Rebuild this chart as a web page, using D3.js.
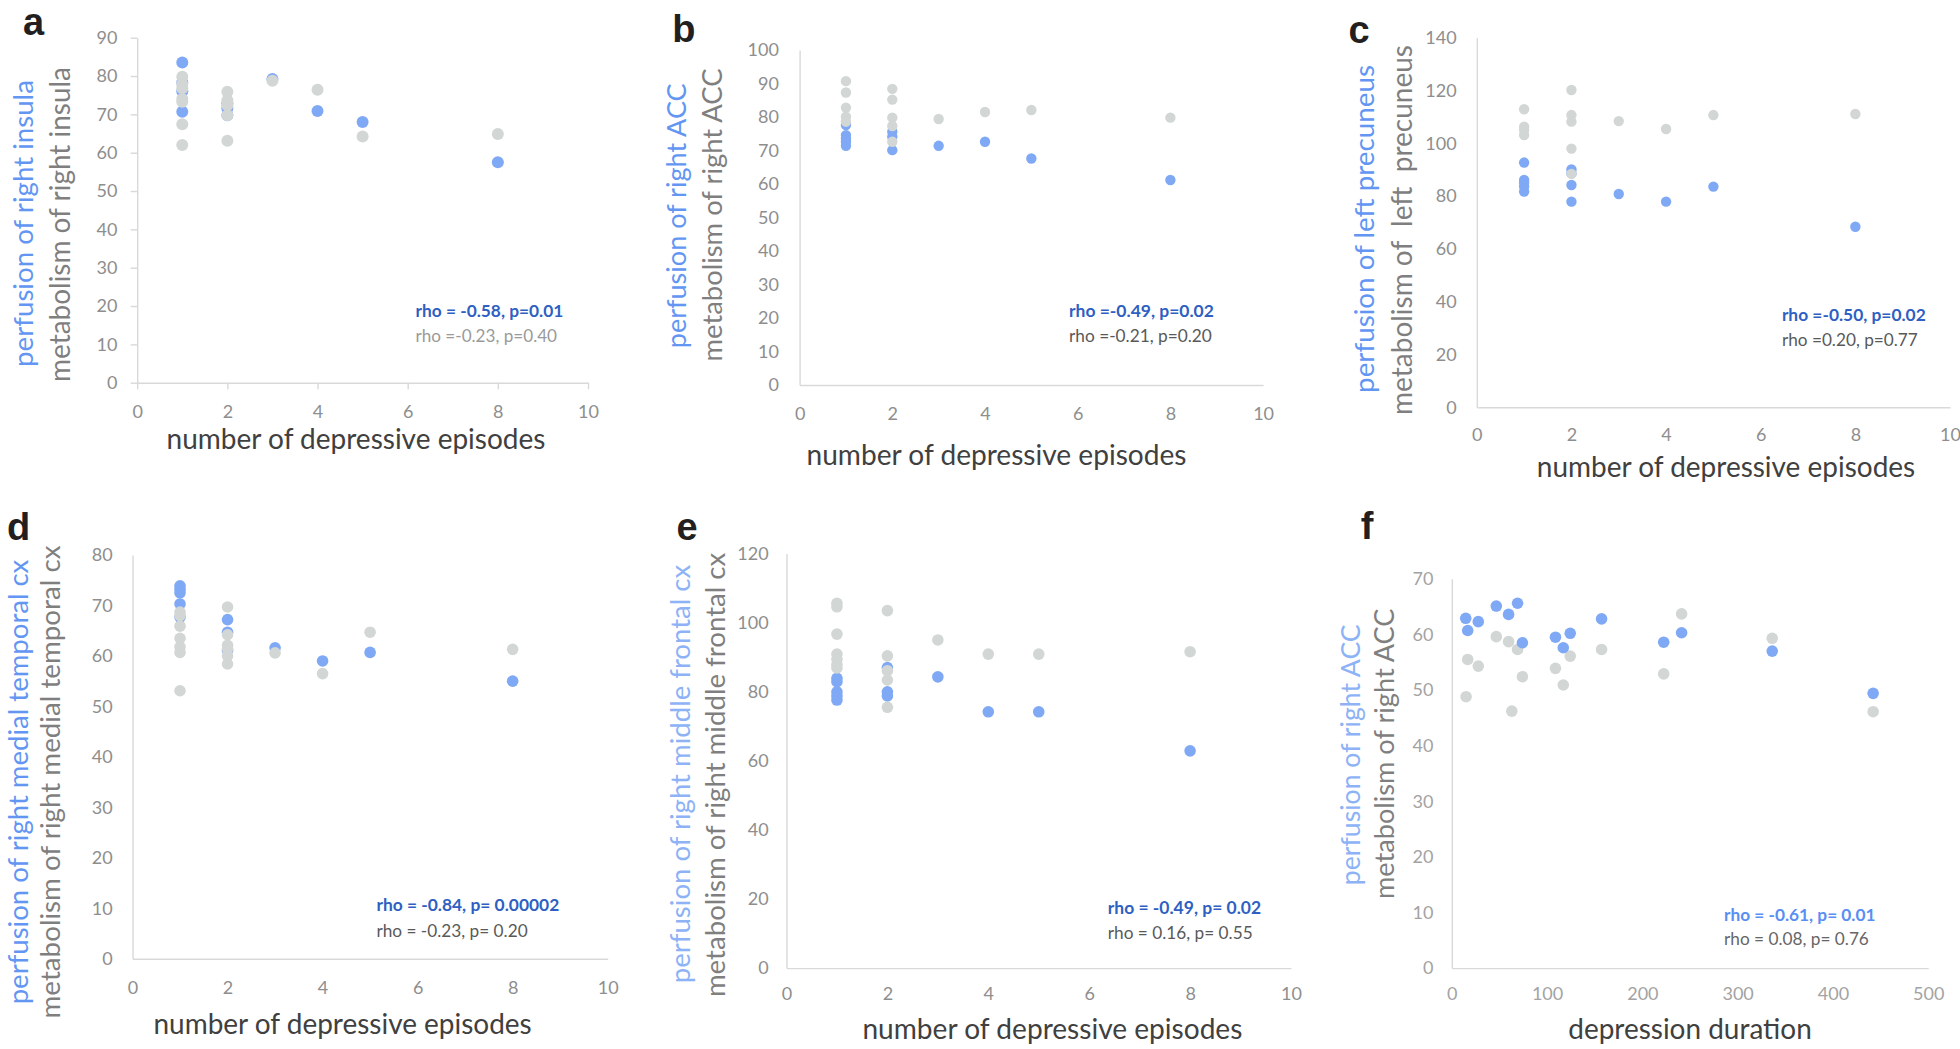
<!DOCTYPE html>
<html><head><meta charset="utf-8">
<script src="https://cdn.jsdelivr.net/npm/d3@7"></script>
<style>body{margin:0;background:#fff} svg{display:block}</style>
</head><body>
<svg id="chart" width="1960" height="1049"></svg>
<script>
// ---------------- DATA ----------------
const episodeTicks  = [0, 2, 4, 6, 8, 10];
const durationTicks = [0, 100, 200, 300, 400, 500];
const yTicksA = [0, 10, 20, 30, 40, 50, 60, 70, 80, 90];
const yTicksB = [0, 10, 20, 30, 40, 50, 60, 70, 80, 90, 100];
const yTicksC = [0, 20, 40, 60, 80, 100, 120, 140];
const yTicksD = [0, 10, 20, 30, 40, 50, 60, 70, 80];
const yTicksE = [0, 20, 40, 60, 80, 100, 120];
const yTicksF = [0, 10, 20, 30, 40, 50, 60, 70];

const panelLetters = ["a", "b", "c", "d", "e", "f"];
const perfTitles = ["perfusion of right insula", "perfusion of right ACC", "perfusion of left precuneus",
  "perfusion of right medial temporal cx", "perfusion of right middle frontal cx", "perfusion of right ACC"];
const metabTitles = ["metabolism of right insula", "metabolism of right ACC", "metabolism of  left  precuneus",
  "metabolism of right medial temporal cx", "metabolism of right middle frontal cx", "metabolism of right ACC"];
const xTitles = ["number of depressive episodes", "number of depressive episodes", "number of depressive episodes",
  "number of depressive episodes", "number of depressive episodes", "depression duration"];
const rhoPerf = ["rho = -0.58, p=0.01", "rho =-0.49, p=0.02", "rho =-0.50, p=0.02",
  "rho = -0.84, p= 0.00002", "rho = -0.49, p= 0.02", "rho = -0.61, p= 0.01"];
const rhoMetab = ["rho =-0.23, p=0.40", "rho =-0.21, p=0.20", "rho =0.20, p=0.77",
  "rho = -0.23, p= 0.20", "rho = 0.16, p= 0.55", "rho = 0.08, p= 0.76"];

// panel a: right insula
const aPerfX  = [1, 1, 1, 1, 2, 2, 2, 3, 4, 5, 8];
const aPerfY  = [83.5, 78.3, 76.0, 70.7, 72.9, 71.6, 69.8, 79.2, 70.9, 68.0, 57.5];
const aMetabX = [1, 1, 1, 1, 1, 1, 1, 2, 2, 2, 2, 2, 3, 4, 5, 8];
const aMetabY = [79.8, 77.9, 76.8, 74.0, 73.3, 67.4, 62.0, 75.9, 73.7, 72.4, 69.8, 63.1, 78.8, 76.4, 64.2, 64.9];

// panel b: right ACC
const bPerfX  = [1, 1, 1, 1, 1, 2, 2, 2, 3, 4, 5, 8];
const bPerfY  = [77.6, 74.6, 73.6, 72.6, 71.4, 75.6, 74.1, 70.1, 71.4, 72.6, 67.6, 61.2];
const bMetabX = [1, 1, 1, 1, 1, 2, 2, 2, 2, 2, 3, 4, 5, 8];
const bMetabY = [90.7, 87.3, 82.8, 80.1, 78.6, 88.4, 85.2, 79.8, 77.3, 72.6, 79.4, 81.5, 82.1, 79.8];

// panel c: left precuneus
const cPerfX  = [1, 1, 1, 1, 1, 2, 2, 2, 2, 3, 4, 5, 8];
const cPerfY  = [92.7, 86.1, 85.1, 83.6, 81.7, 90.1, 88.6, 84.2, 77.9, 80.8, 77.9, 83.6, 68.4];
const cMetabX = [1, 1, 1, 1, 2, 2, 2, 2, 2, 3, 4, 5, 8];
const cMetabY = [112.9, 106.3, 105.0, 103.1, 120.2, 110.7, 108.2, 98.0, 88.4, 108.4, 105.4, 110.7, 111.1];

// panel d: right medial temporal cx
const dPerfX  = [1, 1, 1, 1, 1, 2, 2, 2, 3, 4, 5, 8];
const dPerfY  = [73.9, 73.2, 72.5, 70.3, 67.7, 67.2, 64.7, 61.1, 61.6, 59.0, 60.7, 55.0];
const dMetabX = [1, 1, 1, 1, 1, 1, 1, 2, 2, 2, 2, 2, 2, 3, 4, 5, 8];
const dMetabY = [68.7, 68.0, 65.9, 63.5, 61.8, 60.7, 53.1, 69.7, 64.2, 62.1, 61.4, 60.0, 58.4, 60.6, 56.5, 64.7, 61.3];

// panel e: right middle frontal cx
const ePerfX  = [1, 1, 1, 1, 1, 2, 2, 2, 3, 4, 5, 8];
const ePerfY  = [83.9, 82.9, 80.0, 78.8, 77.6, 87.0, 80.0, 78.8, 84.3, 74.2, 74.2, 62.9];
const eMetabX = [1, 1, 1, 1, 1, 1, 1, 2, 2, 2, 2, 2, 3, 4, 5, 8];
const eMetabY = [105.6, 104.6, 96.7, 90.9, 89.4, 87.9, 86.9, 103.5, 90.4, 86.1, 83.4, 75.5, 95.0, 90.9, 90.9, 91.6];

// panel f: right ACC vs depression duration
const fPerfX  = [14.6, 16.7, 27.8, 46.7, 59.6, 69.0, 74.1, 108.8, 117.0, 124.3, 157.2, 222.4, 241.2, 336.3, 442.2];
const fPerfY  = [62.9, 60.7, 62.3, 65.1, 63.6, 65.6, 58.5, 59.5, 57.6, 60.2, 62.8, 58.6, 60.3, 57.0, 49.4];
const fMetabX = [15.0, 16.7, 27.8, 46.7, 59.6, 63.0, 69.0, 74.1, 108.8, 117.0, 124.3, 157.2, 222.4, 241.2, 336.3, 442.2];
const fMetabY = [48.8, 55.5, 54.3, 59.6, 58.7, 46.2, 57.3, 52.4, 53.9, 50.9, 56.1, 57.3, 52.9, 63.7, 59.3, 46.1];

// ---------------- LAYOUT / STYLE ----------------
const layout = [
  {x0:137.2, x1:588, yT:37.7, yB:382.7, tick:true, yGap:19.8, xOff:29, bx:25.7, by:223.5, gx:62.5, gy:224.5, tx:356, ty:448.7, lx:22.9, ly:35, ax:415.5, aby:316.7, agy:341.7, r:6, grayTop:true,
   wB:287, wG:315, wX:379, wR1:148, wR2:141.7, perfCol:"#6296f2", rho1Col:"#2f5fc2", rho2Col:"#9a9a9a", tickCol:"#8e8e8e"},
  {x0:799.6, x1:1263.1, yT:50, yB:385, tick:false, yGap:20.7, xOff:28.3, bx:679.4, by:215.8, gx:714.6, gy:215, tx:996.5, ty:465.3, lx:672.3, ly:41.7, ax:1069, aby:317, agy:342, r:5.2, grayTop:true,
   wB:265, wG:293, wX:380, wR1:145, wR2:143, perfCol:"#6296f2", rho1Col:"#2f5fc2", rho2Col:"#595959", tickCol:"#8e8e8e"},
  {x0:1476.8, x1:1950, yT:37.7, yB:407.3, tick:false, yGap:20.2, xOff:27.7, bx:1367.3, by:229, gx:1405, gy:230, tx:1726, ty:477, lx:1348.4, ly:43.3, ax:1781.9, aby:321, agy:346, r:5.2, grayTop:true,
   wB:328, wG:370, wX:378.7, wR1:144, wR2:136, perfCol:"#6296f2", rho1Col:"#2f5fc2", rho2Col:"#595959", tickCol:"#8e8e8e"},
  {x0:132.5, x1:607.7, yT:555, yB:958.7, tick:false, yGap:19.8, xOff:28.7, bx:20.5, by:782, gx:53.4, gy:782, tx:342.6, ty:1034, lx:7.1, ly:540.3, ax:376.4, aby:911, agy:936.5, r:5.8, grayTop:true,
   wB:445, wG:473, wX:378.4, wR1:183, wR2:151.4, perfCol:"#6296f2", rho1Col:"#2f5fc2", rho2Col:"#595959", tickCol:"#8e8e8e"},
  {x0:786.5, x1:1291, yT:553.6, yB:968.1, tick:false, yGap:17.9, xOff:25.6, bx:682.8, by:774, gx:718, gy:774.9, tx:1052.4, ty:1039.2, lx:676.6, ly:540.3, ax:1107.8, aby:914, agy:939, r:5.8, grayTop:true,
   wB:418.4, wG:444.7, wX:380.2, wR1:153.4, wR2:145, perfCol:"#8db2f6", rho1Col:"#2f5fc2", rho2Col:"#595959", tickCol:"#8e8e8e"},
  {x0:1451.8, x1:1928.2, yT:578.8, yB:968.1, tick:false, yGap:18.3, xOff:25.6, bx:1352.7, by:754.8, gx:1387.3, gy:753.8, tx:1690, ty:1039, lx:1360.8, ly:539, ax:1724, aby:920.7, agy:945, r:5.8, grayTop:false,
   wB:260.9, wG:290.6, wX:243.6, wR1:151.7, wR2:145, perfCol:"#8db2f6", rho1Col:"#5b8ef2", rho2Col:"#666666", tickCol:"#a3a3a3"}
];

const dataSets = [
  [aPerfX, aPerfY, aMetabX, aMetabY, episodeTicks, yTicksA],
  [bPerfX, bPerfY, bMetabX, bMetabY, episodeTicks, yTicksB],
  [cPerfX, cPerfY, cMetabX, cMetabY, episodeTicks, yTicksC],
  [dPerfX, dPerfY, dMetabX, dMetabY, episodeTicks, yTicksD],
  [ePerfX, ePerfY, eMetabX, eMetabY, episodeTicks, yTicksE],
  [fPerfX, fPerfY, fMetabX, fMetabY, durationTicks, yTicksF]
];

const BLUE_DOT = "#80a9f5", GRAY_DOT = "#d2d6d5", AXIS = "#d9d9d9";
const FONT = "Lato, 'Open Sans', sans-serif";

const svg = d3.select("#chart");

function fit(sel, target) {
  const w = sel.node().getComputedTextLength();
  if (w > 0) sel.attr("font-size", parseFloat(sel.attr("font-size")) * target / w);
  return sel;
}

dataSets.forEach((ds, i) => {
  const [px, py, mx, my, xt, yt] = ds;
  const L = layout[i];
  const g = svg.append("g");
  const x = d3.scaleLinear().domain([0, xt[xt.length - 1]]).range([L.x0, L.x1]);
  const y = d3.scaleLinear().domain([0, yt[yt.length - 1]]).range([L.yB, L.yT]);
  const ts = L.tick ? 6.5 : 0;

  const xa = g.append("g").attr("transform", `translate(0,${L.yB})`)
    .call(d3.axisBottom(x).tickValues(xt).tickSize(ts).tickSizeOuter(0).tickPadding(L.xOff - 6.5 - ts));
  const ya = g.append("g").attr("transform", `translate(${L.x0},0)`)
    .call(d3.axisLeft(y).tickValues(yt).tickSize(ts).tickSizeOuter(0).tickPadding(L.yGap - ts));
  [xa, ya].forEach(a => {
    a.select(".domain").attr("stroke", AXIS).attr("stroke-width", 1.4);
    a.selectAll(".tick line").attr("stroke", AXIS).attr("stroke-width", 1.4);
    a.selectAll(".tick text").attr("fill", L.tickCol).attr("font-family", FONT).attr("font-size", 18);
  });

  const blue = px.map((v, k) => ({x: v, y: py[k], c: BLUE_DOT}));
  const gray = mx.map((v, k) => ({x: v, y: my[k], c: GRAY_DOT}));
  const pts = L.grayTop ? blue.concat(gray) : gray.concat(blue);
  g.append("g").selectAll("circle").data(pts).join("circle")
    .attr("cx", d => x(d.x)).attr("cy", d => y(d.y)).attr("r", L.r).attr("fill", d => d.c);

  // y titles
  fit(g.append("text").attr("transform", `translate(${L.bx + 7},${L.by}) rotate(-90)`)
    .attr("text-anchor", "middle").attr("font-family", FONT).attr("font-size", 28)
    .attr("fill", L.perfCol).style("white-space", "pre").text(perfTitles[i]), L.wB);
  fit(g.append("text").attr("transform", `translate(${L.gx + 7},${L.gy}) rotate(-90)`)
    .attr("text-anchor", "middle").attr("font-family", FONT).attr("font-size", 28)
    .attr("fill", "#7f7f7f").style("white-space", "pre").text(metabTitles[i]), L.wG);

  // x title
  fit(g.append("text").attr("x", L.tx).attr("y", L.ty).attr("text-anchor", "middle")
    .attr("font-family", FONT).attr("font-size", 28).attr("fill", "#404040").text(xTitles[i]), L.wX);

  // annotations
  fit(g.append("text").attr("x", L.ax).attr("y", L.aby).attr("font-family", FONT).attr("font-weight", 700)
    .attr("font-size", 17).attr("fill", L.rho1Col).style("white-space", "pre").text(rhoPerf[i]), L.wR1);
  fit(g.append("text").attr("x", L.ax).attr("y", L.agy).attr("font-family", FONT)
    .attr("font-size", 17).attr("fill", L.rho2Col).style("white-space", "pre").text(rhoMetab[i]), L.wR2);

  // panel letter
  g.append("text").attr("x", L.lx).attr("y", L.ly).attr("font-family", "'Liberation Sans', Arial, sans-serif")
    .attr("font-weight", 700).attr("font-size", 38).attr("fill", "#231f20").text(panelLetters[i]);
});
</script>
</body></html>
